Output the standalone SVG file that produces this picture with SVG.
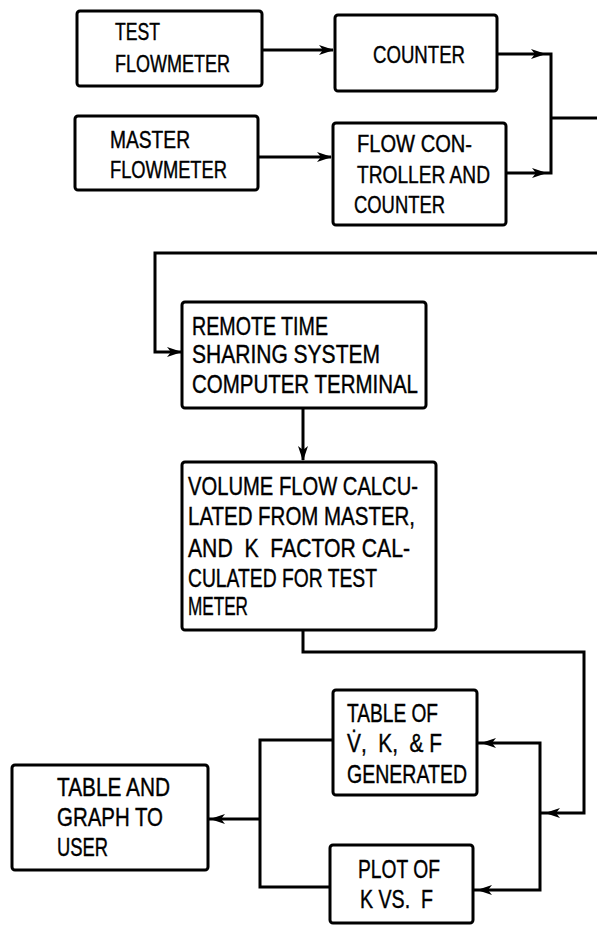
<svg xmlns="http://www.w3.org/2000/svg" xmlns:xlink="http://www.w3.org/1999/xlink" width="597" height="926" viewBox="0 0 597 926">
<style>
.box{fill:#fff;stroke:#000;stroke-width:3;stroke-linejoin:round}
.ln{fill:none;stroke:#000;stroke-width:3;stroke-linejoin:miter}
text{font-family:"Liberation Sans",Arial,sans-serif;fill:#000;font-size:25px;stroke:#000;stroke-width:0.4}
.sm{font-size:23px}
</style>
<defs>
<path id="ah" d="M0,0 L-15,-5 L-11,0 L-15,5 Z" fill="#000"/>
</defs>
<rect width="597" height="926" fill="#fff"/>
<g id="connectors">
<path class="ln" d="M262,50 H333"/>
<path class="ln" d="M258,157 H331"/>
<path class="ln" d="M497,54 H551 V173 H506"/>
<path class="ln" d="M551,118 H597"/>
<path class="ln" d="M597,253 H155 V352 H181"/>
<path class="ln" d="M303,408 V460"/>
<path class="ln" d="M303,630 V652 H584 V813 H540"/>
<path class="ln" d="M477,743 H540 V890 H473"/>
<path class="ln" d="M333,740 H260 V887 H330"/>
<path class="ln" d="M260,819 H209"/>
<use xlink:href="#ah" transform="translate(334,50)"/>
<use xlink:href="#ah" transform="translate(332,157)"/>
<use xlink:href="#ah" transform="translate(546,54)"/>
<use xlink:href="#ah" transform="translate(547,173)"/>
<use xlink:href="#ah" transform="translate(182,352)"/>
<use xlink:href="#ah" transform="translate(303,461) rotate(90)"/>
<use xlink:href="#ah" transform="translate(545,813) rotate(180)"/>
<use xlink:href="#ah" transform="translate(481,743) rotate(180)"/>
<use xlink:href="#ah" transform="translate(477,890) rotate(180)"/>
<use xlink:href="#ah" transform="translate(210,819) rotate(180)"/>
</g>
<g id="test-flowmeter">
<rect class="box" x="77" y="11" width="185" height="75" rx="3"/>
<text class="sm" x="115" y="40" textLength="45" lengthAdjust="spacingAndGlyphs">TEST</text>
<text class="sm" x="115" y="72" textLength="115" lengthAdjust="spacingAndGlyphs">FLOWMETER</text>
</g>
<g id="counter">
<rect class="box" x="335" y="15" width="162" height="76" rx="3"/>
<text class="sm" x="373" y="63" textLength="92" lengthAdjust="spacingAndGlyphs">COUNTER</text>
</g>
<g id="master-flowmeter">
<rect class="box" x="75" y="116" width="183" height="74" rx="3"/>
<text class="sm" x="110" y="148" textLength="80" lengthAdjust="spacingAndGlyphs">MASTER</text>
<text class="sm" x="110" y="178" textLength="117" lengthAdjust="spacingAndGlyphs">FLOWMETER</text>
</g>
<g id="flow-controller">
<rect class="box" x="333" y="123" width="173" height="102" rx="3"/>
<text class="sm" x="357" y="152" textLength="115" lengthAdjust="spacingAndGlyphs">FLOW CON-</text>
<text class="sm" x="357" y="183" textLength="133" lengthAdjust="spacingAndGlyphs">TROLLER AND</text>
<text class="sm" x="354" y="213" textLength="91" lengthAdjust="spacingAndGlyphs">COUNTER</text>
</g>
<g id="remote-terminal">
<rect class="box" x="182" y="302" width="244" height="106" rx="3"/>
<text x="192" y="335" textLength="136" lengthAdjust="spacingAndGlyphs">REMOTE TIME</text>
<text x="192" y="363" textLength="188" lengthAdjust="spacingAndGlyphs">SHARING SYSTEM</text>
<text x="192" y="393" textLength="226" lengthAdjust="spacingAndGlyphs">COMPUTER TERMINAL</text>
</g>
<g id="volume-flow">
<rect class="box" x="182" y="462" width="254" height="168" rx="3"/>
<text x="188" y="495" textLength="230" lengthAdjust="spacingAndGlyphs">VOLUME FLOW CALCU-</text>
<text x="188" y="525" textLength="227" lengthAdjust="spacingAndGlyphs">LATED FROM MASTER,</text>
<text x="188" y="557" textLength="222" lengthAdjust="spacingAndGlyphs" xml:space="preserve">AND  K  FACTOR CAL-</text>
<text x="188" y="587" textLength="189" lengthAdjust="spacingAndGlyphs">CULATED FOR TEST</text>
<text x="188" y="615" textLength="60" lengthAdjust="spacingAndGlyphs">METER</text>
</g>
<g id="table-of">
<rect class="box" x="333" y="690" width="144" height="105" rx="3"/>
<text x="347" y="722" textLength="91" lengthAdjust="spacingAndGlyphs">TABLE OF</text>
<text x="347" y="752" textLength="95" lengthAdjust="spacingAndGlyphs" xml:space="preserve">V&#x307;,  K,  &amp; F</text>
<text x="347" y="783" textLength="120" lengthAdjust="spacingAndGlyphs">GENERATED</text>
</g>
<g id="plot">
<rect class="box" x="330" y="845" width="143" height="78" rx="3"/>
<text x="358" y="878" textLength="82" lengthAdjust="spacingAndGlyphs">PLOT OF</text>
<text x="360" y="908" textLength="73" lengthAdjust="spacingAndGlyphs" xml:space="preserve">K VS.  F</text>
</g>
<g id="table-graph-user">
<rect class="box" x="12" y="765" width="196" height="105" rx="3"/>
<text x="57" y="796" textLength="113" lengthAdjust="spacingAndGlyphs">TABLE AND</text>
<text x="57" y="826" textLength="106" lengthAdjust="spacingAndGlyphs">GRAPH TO</text>
<text x="57" y="856" textLength="51" lengthAdjust="spacingAndGlyphs">USER</text>
</g>
</svg>
